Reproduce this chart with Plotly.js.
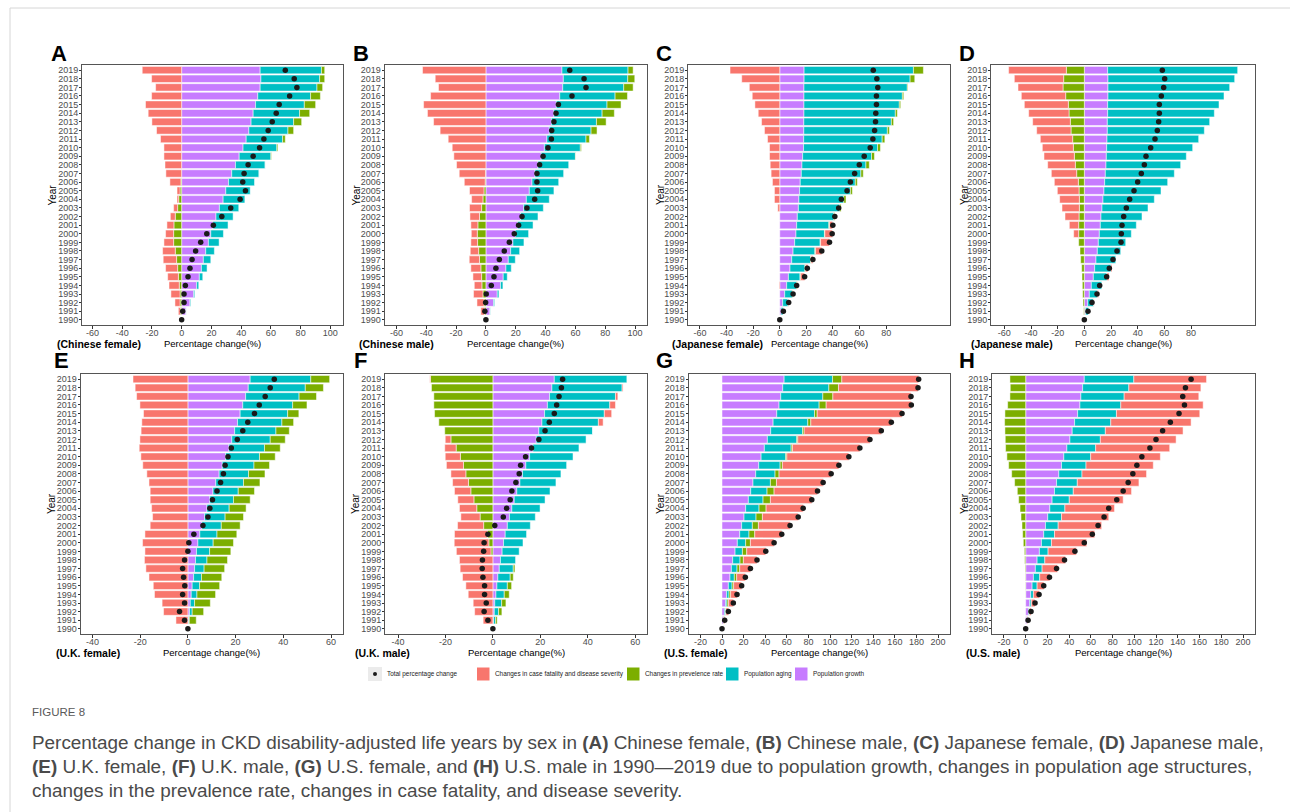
<!DOCTYPE html>
<html><head><meta charset="utf-8">
<script src="https://cdn.plot.ly/plotly-3.0.1.min.js"></script>
<style>html,body{margin:0;padding:0;background:#fff;} #chart{width:1290px;height:812px;}</style>
</head><body><div id="chart"></div>
<script>
// Years, top (2019) to bottom (1990)
const years = [2019,2018,2017,2016,2015,2014,2013,2012,2011,2010,2009,2008,2007,2006,2005,2004,2003,2002,2001,2000,1999,1998,1997,1996,1995,1994,1993,1992,1991,1990];
const yearLabels = years.map(String);

// (A) Chinese female
const cnF_growth = [52.8,53.3,52.8,51.2,49.7,48.1,46.7,45.2,43.4,41.3,38.7,36.2,33.7,31.5,29.7,27.9,25.4,23.1,21.1,19.6,18.0,16.2,14.6,13.3,11.9,10.1,8.1,5.6,2.9,0];
const cnF_aging  = [41.2,39.5,38.2,35.5,32.8,31.2,28.6,26.3,24.5,22.7,21.3,20.0,18.4,17.5,16.4,14.6,13.0,11.5,10.1,8.5,7.2,5.8,5.0,3.8,2.3,1.4,0.7,0.5,0.1,0];
const cnF_prev   = [2.2,3.4,3.8,6.6,7.6,6.8,5.4,3.8,1.8,0.7,0.4,0,0,-0.5,-1.1,-2.0,-2.7,-4.3,-5.2,-5.4,-5.4,-4.3,-3.4,-2.7,-2.2,-1.6,-1.1,-1.1,-0.9,0];
const cnF_fatal  = [-26.5,-20.2,-17.5,-20.2,-24.3,-22.5,-20.0,-16.9,-14.2,-11.9,-11.9,-11.2,-10.6,-7.4,-2.0,-1.1,-2.7,-3.3,-4.7,-5.4,-6.5,-8.5,-9.0,-8.1,-7.2,-6.9,-6.1,-3.4,-1.3,0];
const cnF_total  = [69.7,75.7,77.5,72.6,65.6,63.6,60.9,58.2,55.3,52.4,48.1,44.7,42.0,41.1,42.9,39.3,33.0,27.0,21.3,16.9,12.8,9.4,7.0,5.6,4.3,2.5,1.6,1.6,0.7,0];

// (B) Chinese male
const cnM_growth = [51.0,51.9,51.5,49.5,47.2,45.6,43.9,42.5,40.9,39.2,37.1,34.9,32.9,30.9,29.1,27.1,25.3,23.3,21.3,19.7,18.1,16.6,15.0,13.4,11.6,9.8,7.6,5.1,2.7,0];
const cnM_aging  = [44.3,43.2,40.9,37.1,34.0,32.3,30.2,28.0,26.2,24.1,22.9,20.8,19.2,17.9,16.5,15.4,13.2,11.6,10.3,8.9,7.4,6.0,4.7,3.6,2.7,1.6,1.1,0.7,0.2,0];
const cnM_prev   = [3.4,4.7,6.3,8.3,9.4,8.2,6.5,4.0,2.3,0.7,0.2,0,-0.3,-0.5,-1.3,-2.0,-2.9,-4.3,-5.4,-5.8,-5.6,-4.9,-4.3,-3.4,-2.9,-2.7,-2.0,-1.3,-0.9,0];
const cnM_fatal  = [-42.5,-34.0,-31.8,-37.1,-41.8,-39.2,-35.1,-30.7,-25.3,-22.6,-21.5,-19.7,-17.6,-14.0,-9.7,-7.6,-8.1,-6.4,-4.7,-4.0,-4.5,-5.6,-6.9,-6.7,-5.8,-5.1,-6.3,-4.7,-2.5,0];
const cnM_total  = [56.2,65.8,67.1,57.7,48.6,47.0,45.6,44.1,43.9,41.6,38.3,36.0,34.2,34.2,34.7,32.7,27.5,24.2,21.9,19.0,15.7,12.3,9.0,6.7,5.4,3.6,0.2,-0.2,-0.7,0];

// (C) Japanese female
const jpF_growth = [18.3,18.3,18.2,18.2,18.2,18.2,18.1,18.1,18.0,17.9,17.2,16.7,16.2,15.4,14.9,14.4,14.0,13.2,12.7,12.2,11.2,10.0,9.0,7.7,6.5,5.2,3.7,2.2,1.0,0];
const jpF_aging  = [82.2,79.7,77.7,74.0,71.7,68.7,65.8,62.8,59.0,55.6,51.8,48.1,44.8,41.4,38.2,33.7,31.1,27.5,24.2,21.4,19.2,16.4,14.2,11.2,8.7,7.5,5.8,4.0,1.7,0];
const jpF_prev   = [7.5,3.5,0.5,1.0,1.0,1.5,1.7,1.5,2.0,2.2,2.2,2.5,1.8,1.5,1.5,1.7,1.0,0.8,0.5,0.3,0.3,0.5,0.4,0.5,0.5,0.5,0.5,0.3,0,0];
const jpF_fatal  = [-37.4,-28.6,-22.9,-20.7,-18.7,-16.2,-13.7,-11.5,-9.2,-7.7,-7.7,-7.2,-6.5,-5.5,-4.0,-4.0,-1.5,0,2.2,5.7,6.7,4.7,1.3,1.8,3.0,-0.5,0,0.3,0,0];
const jpF_total  = [70.3,73.0,73.7,72.7,72.7,72.2,72.0,71.3,70.0,68.0,63.5,59.8,56.3,53.1,50.6,46.3,44.3,41.4,39.9,39.4,37.4,31.6,24.9,20.7,18.7,12.7,10.0,6.7,2.7,0];

// (D) Japanese male
const jpM_growth = [17.5,17.75,17.75,17.75,17.5,17.5,17.25,17.25,17.0,16.75,16.5,16.25,15.75,15.25,14.75,14.0,13.25,12.5,12.0,11.25,10.5,9.75,8.75,7.75,6.75,5.25,3.75,2.5,1.0,0];
const jpM_aging  = [97.5,95.0,91.25,87.0,83.5,80.0,76.75,72.75,68.75,64.5,60.0,56.0,51.75,47.25,42.75,38.5,34.5,30.75,27.0,24.0,20.75,17.75,15.0,12.25,10.25,8.0,6.25,4.5,2.25,0];
const jpM_prev   = [-13.5,-15.5,-16.0,-14.0,-12.0,-11.5,-10.5,-10.0,-8.75,-8.25,-7.5,-6.75,-5.75,-4.5,-4.0,-3.75,-3.75,-4.0,-4.25,-4.25,-4.25,-3.25,-2.75,-2.0,-1.75,-1.5,-1.25,-1.0,-0.5,0];
const jpM_fatal  = [-43.3,-37.0,-33.75,-33.25,-33.0,-30.25,-28.25,-25.75,-24.25,-23.25,-22.75,-20.75,-19.0,-18.0,-16.25,-14.75,-13.0,-10.5,-7.0,-3.75,0,0,0,0.75,1.5,0,0.5,0.3,0,0];
const jpM_total  = [58.5,60.25,59.5,57.75,56.25,56.25,55.75,54.75,53.0,49.75,46.25,45.0,42.75,40.0,37.25,34.0,31.5,29.5,28.25,27.75,27.5,24.5,21.5,18.75,16.75,11.5,9.5,5.75,2.75,0];

// (E) U.K. female
const ukF_growth = [26.1,25.3,24.2,23.0,21.9,20.8,19.6,18.4,17.2,15.8,14.4,13.1,11.7,10.5,9.2,8.0,7.0,5.9,5.0,4.2,3.6,3.2,2.8,2.4,1.8,1.4,1.0,0.7,0.3,0];
const ukF_aging  = [25.4,23.9,22.4,20.9,19.9,18.6,17.3,16.1,14.9,14.2,13.3,12.3,11.6,10.6,9.9,9.3,8.6,8.1,7.2,6.4,5.5,4.8,4.0,3.3,3.1,2.4,1.8,1.1,0.3,0];
const ukF_prev   = [7.9,7.6,7.3,6.0,4.7,4.9,5.6,6.3,6.6,6.6,6.5,6.9,6.9,6.8,7.0,7.1,7.7,7.9,8.3,8.5,8.9,8.6,8.6,8.5,8.4,7.8,6.6,4.8,2.9,0];
const ukF_fatal  = [-23.0,-22.1,-21.5,-20.1,-18.6,-19.3,-19.6,-20.1,-20.4,-19.7,-18.9,-17.2,-16.3,-15.8,-15.8,-15.2,-14.8,-15.8,-18.0,-19.0,-18.0,-18.2,-17.6,-16.3,-14.5,-14.0,-10.8,-10.2,-5.0,0];
const ukF_total  = [36.2,34.5,32.4,29.9,27.9,25.1,23.0,20.7,18.2,16.8,15.6,14.9,13.7,12.2,10.3,9.2,8.4,6.3,2.5,0.4,0.0,-1.4,-2.2,-1.8,-1.3,-2.2,-1.4,-3.5,-1.4,0];

// (F) U.K. male
const ukM_growth = [25.9,24.9,23.9,23.0,21.8,20.7,19.4,18.3,16.9,15.5,13.9,12.5,11.4,10.1,9.0,8.0,7.0,6.1,5.2,4.5,3.9,3.2,2.7,2.1,1.7,1.3,0.8,0.6,0.3,0];
const ukM_aging  = [30.6,29.6,27.8,26.3,25.2,23.8,22.7,21.0,19.4,18.3,17.2,16.2,15.2,14.0,13.0,11.9,10.9,9.7,9.0,8.2,7.2,6.5,5.9,5.2,4.4,3.5,2.9,1.8,0.8,0];
const ukM_prev   = [-26.3,-25.9,-24.9,-24.9,-24.6,-22.8,-20.3,-17.7,-15.5,-13.7,-12.4,-11.4,-10.3,-9.3,-8.0,-6.8,-5.4,-3.9,-2.3,-1.7,-0.8,0,0.7,1.3,1.8,2.1,1.8,1.4,0.7,0];
const ukM_fatal  = [-0.3,0.4,1.0,2.4,3.1,2.0,0,-2.4,-4.8,-6.4,-7.2,-6.3,-6.7,-6.9,-6.8,-7.3,-8.1,-11.0,-13.9,-14.6,-14.6,-14.1,-13.8,-12.8,-11.4,-10.4,-8.3,-7.7,-4.1,0];
const ukM_total  = [29.4,28.9,27.9,26.9,25.9,23.8,22.0,19.4,16.3,13.8,11.7,11.1,9.7,8.0,7.3,5.8,4.4,0.8,-2.1,-3.7,-3.9,-4.4,-4.5,-4.2,-3.5,-3.5,-2.8,-3.7,-2.1,0];

// (G) U.S. female
const usF_growth = [57.5,56.2,54.4,52.8,50.7,47.3,45.1,42.0,39.2,36.2,34.0,31.2,28.7,26.6,24.4,21.9,20.4,18.2,16.4,14.2,12.1,9.9,8.7,7.4,5.9,4.3,3.4,2.2,1.2,0];
const usF_aging  = [44.8,42.7,38.9,37.1,34.9,32.1,29.4,27.2,24.8,22.8,19.8,17.9,16.1,15.1,13.6,12.4,11.1,9.9,8.6,7.7,6.8,6.8,5.2,4.0,3.4,2.2,1.2,1.2,0.4,0];
const usF_prev   = [8.6,8.9,9.3,6.5,2.5,2.8,1.5,0.9,1.2,1.0,2.1,3.7,5.6,6.5,6.8,6.5,5.9,5.6,5.3,4.4,4.0,3.1,2.5,2.2,1.5,1.5,1.3,0.3,0.2,0];
const usF_fatal  = [71.1,73.6,72.3,78.8,78.5,74.5,71.4,66.8,62.4,57.4,52.3,48.2,43.2,40.2,38.3,34.3,33.1,29.3,25.0,21.9,17.6,12.6,9.9,8.0,7.4,5.9,4.6,2.2,0.8,0];
const usF_total  = [182.0,181.4,174.9,175.2,166.6,156.7,147.4,136.9,127.6,117.4,108.2,101.0,93.6,88.4,83.1,75.1,70.5,63.0,55.3,48.2,40.5,32.4,26.3,21.6,18.2,13.9,10.5,5.9,2.5,0];

// (H) U.S. male
const usM_growth = [53.9,52.4,50.8,49.9,47.8,45.0,42.8,40.7,37.9,35.1,33.0,30.5,28.4,26.5,24.3,22.2,20.3,18.2,16.6,14.5,12.6,10.5,8.9,7.1,5.9,4.6,3.7,2.5,1.2,0];
const usM_aging  = [45.6,42.5,39.8,37.6,35.7,33.3,30.5,28.0,26.5,24.7,22.5,21.3,19.1,17.3,15.8,13.9,12.7,11.7,9.9,9.2,8.0,7.1,6.2,5.8,4.6,2.5,1.5,0.9,0.3,0];
const usM_prev   = [-14.5,-14.2,-14.5,-16.6,-19.1,-19.4,-19.1,-18.8,-18.5,-17.3,-15.7,-12.9,-10.2,-7.7,-6.5,-5.2,-4.3,-3.4,-2.8,-2.2,-1.2,-0.9,-0.6,-0.4,-0.3,-0.2,0,0,0,0];
const usM_fatal  = [66.9,66.3,68.7,75.8,76.7,73.9,71.5,69.7,68.1,64.1,61.9,59.4,56.7,53.6,49.6,45.6,43.4,40.0,37.0,32.4,26.0,19.0,14.2,9.4,6.4,5.4,3.4,1.5,0.6,0];
const usM_total  = [152.2,147.0,144.5,146.1,141.1,133.1,126.0,119.9,114.3,106.9,102.3,98.6,94.3,89.7,83.8,76.4,72.1,66.6,61.3,53.9,45.3,35.7,28.4,21.9,16.6,12.3,8.6,4.9,2.2,0];

// Tick values
const ticksAB = [-60,-40,-20,0,20,40,60,80,100];
const ticksCD = [-60,-40,-20,0,20,40,60,80];
const ticksEF = [-40,-20,0,20,40,60];
const ticksGH = [-20,0,20,40,60,80,100,120,140,160,180,200];

const legendLabels = ['Total percentage change','Changes in case fatality and disease severity','Changes in prevelence rate','Population aging','Population growth'];

// ---------- drawing ----------
const W = 1290, H = 812;
const fx = x => x / W, fy = y => 1 - y / H;
const COL = {fatal:'#F8766D', prev:'#7CAE00', aging:'#00BFC4', growth:'#C77CFF'};
const FONT = 'Liberation Sans, Arial, Helvetica, sans-serif';

const panels = [
  {L:'A', name:'(Chinese female)', d:[cnF_growth,cnF_aging,cnF_prev,cnF_fatal,cnF_total], x0:82,  x1:343, row:0, range:[-67,108.5], ticks:ticksAB, lx:49,  nx:55,  yx:51.5},
  {L:'B', name:'(Chinese male)',   d:[cnM_growth,cnM_aging,cnM_prev,cnM_fatal,cnM_total], x0:384.5,x1:647, row:0, range:[-68,108], ticks:ticksAB, lx:351, nx:357, yx:355.5},
  {L:'C', name:'(Japanese female)',d:[jpF_growth,jpF_aging,jpF_prev,jpF_fatal,jpF_total], x0:688, x1:950, row:0, range:[-69,128], ticks:ticksCD, lx:654, nx:670, yx:660},
  {L:'D', name:'(Japanese male)',  d:[jpM_growth,jpM_aging,jpM_prev,jpM_fatal,jpM_total], x0:991, x1:1255,row:0, range:[-70,128], ticks:ticksCD, lx:957, nx:969, yx:964},
  {L:'E', name:'(U.K. female)',    d:[ukF_growth,ukF_aging,ukF_prev,ukF_fatal,ukF_total], x0:80.5,x1:343, row:1, range:[-45,65], ticks:ticksEF, lx:52,  nx:54,  yx:51},
  {L:'F', name:'(U.K. male)',      d:[ukM_growth,ukM_aging,ukM_prev,ukM_fatal,ukM_total], x0:385, x1:647, row:1, range:[-45.5,65], ticks:ticksEF, lx:352, nx:353, yx:355},
  {L:'G', name:'(U.S. female)',    d:[usF_growth,usF_aging,usF_prev,usF_fatal,usF_total], x0:688.5,x1:950,row:1, range:[-31,211], ticks:ticksGH, lx:654, nx:662, yx:660},
  {L:'H', name:'(U.S. male)',      d:[usM_growth,usM_aging,usM_prev,usM_fatal,usM_total], x0:992, x1:1255,row:1, range:[-31,211], ticks:ticksGH, lx:957, nx:964, yx:964}
];

const traces = [];
const layout = {
  width: W, height: H, margin:{l:0,r:0,t:0,b:0,pad:0},
  paper_bgcolor:'#ffffff', plot_bgcolor:'#ffffff',
  barmode:'relative', bargap:0, showlegend:false,
  font:{family:FONT, color:'#4d4d4d'},
  annotations:[], shapes:[]
};
const ann = (text, x, y, opt) => layout.annotations.push(Object.assign({
  text, x:fx(x), y:fy(y), xref:'paper', yref:'paper', showarrow:false,
  xanchor:'left', yanchor:'middle', font:{family:FONT, size:10, color:'#000'}
}, opt || {}));

const rows = [[65,325],[374,634]];
const keys = ['growth','aging','prev','fatal'];

panels.forEach((p, i) => {
  const n = i === 0 ? '' : String(i + 1);
  const xa = 'x' + n, ya = 'y' + n;
  const [yt, yb] = rows[p.row];
  keys.forEach((k, j) => {
    traces.push({
      type:'bar', orientation:'h', x:p.d[j], y:years, xaxis:xa, yaxis:ya,
      width:0.86, marker:{color:COL[k], line:{color:'rgba(255,255,255,0.85)', width:0.6}},
      hoverinfo:'skip'
    });
  });
  traces.push({
    type:'scatter', mode:'markers', x:p.d[4], y:years, xaxis:xa, yaxis:ya,
    marker:{color:'#1a1a1a', size:5.5}, hoverinfo:'skip', cliponaxis:false
  });
  layout['xaxis' + n] = {
    domain:[fx(p.x0), fx(p.x1)], range:p.range, anchor:ya,
    tickmode:'array', tickvals:p.ticks, ticktext:p.ticks.map(String),
    ticks:'outside', ticklen:3, tickwidth:1, tickcolor:'#333', ticklabelstandoff:-4,
    showline:true, mirror:true, linecolor:'#555', linewidth:1,
    showgrid:false, zeroline:false, tickfont:{family:FONT, size:9, color:'#4d4d4d'}, fixedrange:true
  };
  layout['yaxis' + n] = {
    domain:[fy(yb), fy(yt)], range:[1989.4, 2019.6], anchor:xa,
    tickmode:'array', tickvals:years, ticktext:yearLabels,
    ticks:'outside', ticklen:2, tickwidth:1, tickcolor:'#333', ticklabelstandoff:-1,
    showline:true, mirror:true, linecolor:'#555', linewidth:1,
    showgrid:false, zeroline:false, tickfont:{family:FONT, size:9, color:'#4d4d4d'}, fixedrange:true
  };
  // panel letter
  ann('<b>' + p.L + '</b>', p.lx, (p.row === 0 ? 53 : 360), {font:{family:FONT, size:22, color:'#000'}});
  // sub label
  ann('<b>' + p.name + '</b>', p.nx, (p.row === 0 ? 344 : 653), {font:{family:FONT, size:10.5, color:'#000'}});
  // x title
  ann('Percentage change(%)', (p.x0 + p.x1) / 2, (p.row === 0 ? 343 : 652), {xanchor:'center', font:{family:FONT, size:9.5, color:'#000'}});
  // y title
  ann('Year', p.yx, (yt + yb) / 2, {xanchor:'center', textangle:-90, font:{family:FONT, size:10, color:'#000'}});
});

// legend (manual)
const LY = 674;
layout.shapes.push({type:'rect', xref:'paper', yref:'paper', x0:fx(368), x1:fx(382), y0:fy(681), y1:fy(667), fillcolor:'#ebebeb', line:{width:0}});
layout.shapes.push({type:'circle', xref:'paper', yref:'paper', x0:fx(373), x1:fx(377), y0:fy(676), y1:fy(672), fillcolor:'#1a1a1a', line:{width:0}});
const legKeys = [[477, COL.fatal],[627, COL.prev],[726, COL.aging],[795, COL.growth]];
legKeys.forEach(([x, c]) => layout.shapes.push({type:'rect', xref:'paper', yref:'paper', x0:fx(x), x1:fx(x + 12.5), y0:fy(680.5), y1:fy(667.5), fillcolor:c, line:{width:0}}));
const legTextX = [385, 493, 643, 742, 811];
legendLabels.forEach((t, i) => ann(t, legTextX[i], LY, {font:{family:FONT, size:6.4, color:'#1a1a1a'}}));

// page frame
layout.shapes.push({type:'line', xref:'paper', yref:'paper', x0:fx(10), x1:1, y0:fy(8), y1:fy(8), line:{color:'#d6d6d6', width:1}});
layout.shapes.push({type:'line', xref:'paper', yref:'paper', x0:fx(10), x1:fx(10), y0:fy(8), y1:0, line:{color:'#d6d6d6', width:1}});

// caption
const CAP = 'Liberation Sans Narrow, Arial Narrow, Liberation Sans, sans-serif';
ann('FIGURE 8', 30, 712, {font:{family:CAP, size:11.5, color:'#5a5a5a'}});
const capLines = [
  'Percentage change in CKD disability-adjusted life years by sex in <b>(A)</b> Chinese female, <b>(B)</b> Chinese male, <b>(C)</b> Japanese female, <b>(D)</b> Japanese male,',
  '<b>(E)</b> U.K. female, <b>(F)</b> U.K. male, <b>(G)</b> U.S. female, and <b>(H)</b> U.S. male in 1990—2019 due to population growth, changes in population age structures,',
  'changes in the prevalence rate, changes in case fatality, and disease severity.'
];
capLines.forEach((t, i) => ann(t, 30, 742 + i * 24.3, {font:{family:CAP, size:18.9, color:'#4a4a4a'}}));

Plotly.newPlot('chart', traces, layout, {staticPlot:true, displayModeBar:false});
</script>
</body></html>
